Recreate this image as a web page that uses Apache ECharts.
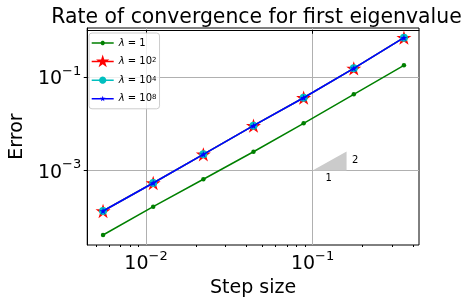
<!DOCTYPE html>
<html><head><meta charset="utf-8">
<script src="https://cdn.jsdelivr.net/npm/echarts@6/dist/echarts.min.js"></script>
<style>html,body{margin:0;padding:0;background:#fff}#c{width:461px;height:304px}</style>
</head><body><div id="c"></div>
<script>
// ---- data ----
const stepSizes = [0.3536, 0.1768, 0.0884, 0.0442, 0.0221, 0.01105, 0.005524];
const errLambda1   = [0.178, 0.0427, 0.01023, 0.00252, 0.000649, 0.000168, 0.0000417];
const errLambda1e2 = [0.694, 0.153, 0.0360, 0.00908, 0.00222, 0.00054, 0.000136];
const errLambda1e4 = [0.694, 0.153, 0.0360, 0.00908, 0.00222, 0.00054, 0.000136];
const errLambda1e8 = [0.694, 0.153, 0.0360, 0.00908, 0.00222, 0.00054, 0.000136];
const seriesNames = ['λ = 1', 'λ = 10^2', 'λ = 10^4', 'λ = 10^8'];
const xMajorTicks = [0.01, 0.1];
const xMinorTicks = [0.005, 0.006, 0.007, 0.008, 0.009, 0.02, 0.03, 0.04, 0.05, 0.06, 0.07, 0.08, 0.09, 0.2, 0.3, 0.4];
const yMajorTicks = [0.001, 0.1];
const xLimits = [0.00444, 0.4355];
const yLimits = [2.549e-5, 1.117];
const slopeTriangleX = [0.1, 0.16];
const slopeTriangleY = [0.001, 0.00256];
const slopeLabelText = ['1', '2'];
const slopeLabelX = [0.125, 0.18];
const slopeLabelY = [0.00069, 0.00162];

// ---- build ----
const L = Math.log10;
const FONT = 'DejaVu Sans';
const STAR = 'path://M50,0 L61.23,34.55 L97.55,34.55 L68.17,55.9 L79.39,90.45 L50,69.1 L20.61,90.45 L31.83,55.9 L2.45,34.55 L38.77,34.55 Z';
function pts(ys) { return stepSizes.map((x, i) => [L(x), L(ys[i])]); }
function powLabel(v) {
  const e = Math.round(v);
  return '{b|10}{s|' + (e < 0 ? '\u2212' : '') + Math.abs(e) + '}';
}
// legend icons: 22x14 box, line through the middle plus a marker (all clockwise)
function f(n) { return n.toFixed(2); }
function starPath(cx, cy, R) {
  const r = R * 0.382; let d = '';
  for (let k = 0; k < 10; k++) {
    const ang = (-90 + 36 * k) * Math.PI / 180, rad = k % 2 ? r : R;
    d += (k ? 'L' : 'M') + f(cx + rad * Math.cos(ang)) + ',' + f(cy + rad * Math.sin(ang)) + ' ';
  }
  return d + 'Z ';
}
function circlePath(cx, cy, r) {
  let d = '';
  for (let k = 0; k < 24; k++) {
    const ang = k * 15 * Math.PI / 180;
    d += (k ? 'L' : 'M') + f(cx + r * Math.cos(ang)) + ',' + f(cy + r * Math.sin(ang)) + ' ';
  }
  return d + 'Z ';
}
const FRAME = 'M0,0 L0.01,0 L0,0.01 Z M22,14 L21.99,14 L22,13.99 Z ';
const LINE = 'M0,6.25 L22,6.25 L22,7.75 L0,7.75 Z ';
const legendIcons = [
  'path://' + FRAME + LINE + circlePath(11, 7, 2.2),
  'path://' + FRAME + LINE + starPath(11, 7, 7),
  'path://' + FRAME + LINE + circlePath(11, 7, 3.6),
  'path://' + FRAME + LINE + starPath(11, 7, 3)
];
const tickRich = {
  b: { fontFamily: FONT, fontSize: 19, color: '#000', lineHeight: 24, verticalAlign: 'bottom' },
  s: { fontFamily: FONT, fontSize: 13, color: '#000', lineHeight: 14, verticalAlign: 'top' }
};
const chart = echarts.init(document.getElementById('c'), null, { renderer: 'canvas' });
chart.setOption({
  animation: false,
  backgroundColor: '#fff',
  title: {
    text: 'Rate of convergence for first eigenvalue',
    left: 251.5, textAlign: 'center', top: 3,
    textStyle: { fontFamily: FONT, fontSize: 20.4, fontWeight: 'normal', color: '#000' }
  },
  grid: { left: 84, right: 42, top: 28, bottom: 59, show: true, borderColor: '#000', borderWidth: 1, backgroundColor: 'transparent' },
  legend: {
    orient: 'vertical', left: 89, top: 33,
    data: seriesNames.map((n, i) => ({ name: n, icon: legendIcons[i] })),
    itemWidth: 22, itemHeight: 14, itemGap: 4.6, itemTextGap: 8,
    padding: [3, 3, 3, 2.7],
    itemStyle: { borderWidth: 0 },
    backgroundColor: 'rgba(255,255,255,0.8)', borderColor: '#cccccc', borderWidth: 1, borderRadius: 3,
    formatter: function (n) {
      const p = n.split('^');
      return '{i|λ} = ' + (p.length > 1 ? p[0].replace('λ = ', '') + '{s|' + p[1] + '}' : n.replace('λ = ', ''));
    },
    textStyle: {
      fontFamily: FONT, fontSize: 10, color: '#000',
      rich: {
        i: { fontFamily: FONT, fontStyle: 'italic', fontSize: 10 },
        s: { fontFamily: FONT, fontSize: 7, verticalAlign: 'top', lineHeight: 8 }
      }
    }
  },
  xAxis: [{
    type: 'value', min: L(xLimits[0]), max: L(xLimits[1]),
    name: 'Step size', nameLocation: 'middle', nameGap: 33,
    nameTextStyle: { fontFamily: FONT, fontSize: 19, color: '#000' },
    axisLine: { show: true, lineStyle: { color: '#000', width: 1 } },
    axisTick: { show: true, length: 3.5, lineStyle: { color: '#000' }, customValues: xMajorTicks.map(L) },
    axisLabel: { customValues: xMajorTicks.map(L), formatter: powLabel, rich: tickRich, margin: 5, color: '#000' },
    splitLine: { show: true, lineStyle: { color: '#b0b0b0', width: 1 } }
  }, {
    type: 'value', min: L(xLimits[0]), max: L(xLimits[1]), position: 'bottom',
    axisLine: { show: false },
    axisTick: { show: true, length: 2, lineStyle: { color: '#000' }, customValues: xMinorTicks.map(L) },
    axisLabel: { show: false },
    splitLine: { show: false }
  }],
  yAxis: {
    type: 'value', min: L(yLimits[0]), max: L(yLimits[1]),
    name: 'Error', nameLocation: 'middle', nameGap: 55,
    nameTextStyle: { fontFamily: FONT, fontSize: 19, color: '#000' },
    axisLine: { show: true, lineStyle: { color: '#000', width: 1 } },
    axisTick: { show: true, length: 3.5, lineStyle: { color: '#000' }, customValues: yMajorTicks.map(L) },
    axisLabel: { customValues: yMajorTicks.map(L), formatter: powLabel, rich: tickRich, margin: 6, color: '#000' },
    splitLine: { show: true, lineStyle: { color: '#b0b0b0', width: 1 } }
  },
  series: [
    {
      type: 'custom', silent: true, z: 1,
      data: [0],
      renderItem: function (params, api) {
        const a = api.coord([L(slopeTriangleX[0]), L(slopeTriangleY[0])]);
        const b = api.coord([L(slopeTriangleX[1]), L(slopeTriangleY[0])]);
        const c = api.coord([L(slopeTriangleX[1]), L(slopeTriangleY[1])]);
        const kids = [{ type: 'polygon', shape: { points: [a, b, c] }, style: { fill: '#cbcbcb' } }];
        slopeLabelText.forEach((t, i) => {
          const p = api.coord([L(slopeLabelX[i]), L(slopeLabelY[i])]);
          kids.push({ type: 'text', x: p[0], y: p[1], style: { text: t, fontFamily: FONT, fontSize: 10, fill: '#000', align: 'center', verticalAlign: 'middle' } });
        });
        return { type: 'group', children: kids };
      }
    },
    {
      name: seriesNames[0], type: 'line', data: pts(errLambda1), z: 3,
      lineStyle: { color: '#008000', width: 1.5 }, itemStyle: { color: '#008000' },
      symbol: 'circle', symbolSize: 4.5, showSymbol: true
    },
    {
      name: seriesNames[1], type: 'line', data: pts(errLambda1e2), z: 4,
      lineStyle: { color: '#ff0000', width: 1.5 }, itemStyle: { color: '#ff0000' },
      symbol: STAR, symbolSize: 15, symbolKeepAspect: true
    },
    {
      name: seriesNames[2], type: 'line', data: pts(errLambda1e4), z: 5,
      lineStyle: { color: '#00bfbf', width: 1.5 }, itemStyle: { color: '#00bfbf' },
      symbol: 'circle', symbolSize: 8
    },
    {
      name: seriesNames[3], type: 'line', data: pts(errLambda1e8), z: 6,
      lineStyle: { color: '#0000ff', width: 1.5 }, itemStyle: { color: '#0000ff' },
      symbol: STAR, symbolSize: 7, symbolKeepAspect: true
    }
  ]
});
</script></body></html>
